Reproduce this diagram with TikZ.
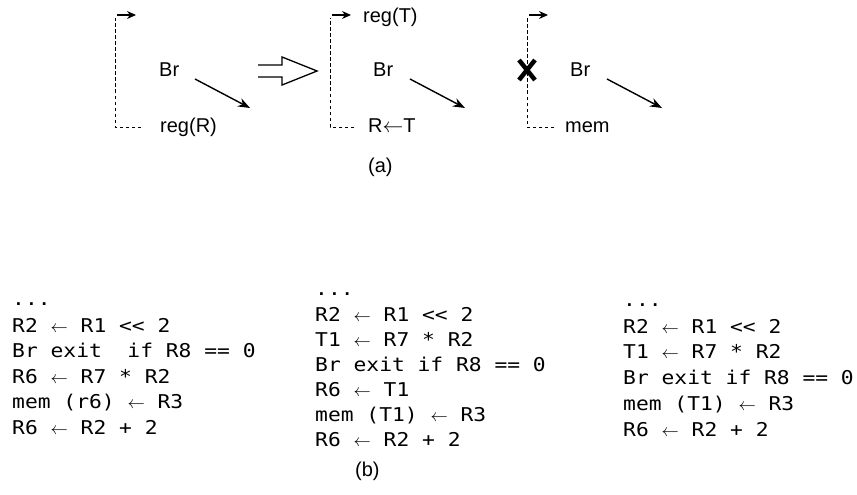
\documentclass[tikz,border=0pt]{standalone}
\usepackage{fontspec}
\setmainfont{Liberation Sans}
\newfontfamily\codefont[FakeStretch=1.12,Ligatures=TeXOff]{DejaVu Sans Mono}
\newcommand\lar{$\leftarrow$}
\usetikzlibrary{arrows.meta}
\begin{document}
\begin{tikzpicture}[x=1pt,y=-1pt,
  lbl/.style={font=\fontsize{20}{20}\selectfont, inner sep=0pt, anchor=base west},
  code/.style={font=\codefont\fontsize{19}{19}\selectfont, inner sep=0pt, anchor=base west},
  brarrow/.style={line width=1.4pt, -{Stealth[length=12pt,width=9pt]}},
  flow/.style={line width=1pt, dash pattern=on 3.5pt off 2.5pt},
  tiparrow/.style={line width=1.2pt, -{Stealth[length=9pt,width=8pt]}},
  cross/.style={line width=4.5pt},
  hollow/.style={line width=1.3pt, line join=miter},
]
\path[use as bounding box] (0,0) rectangle (857,495);

% ---------- panel 1 ----------
\coordinate (p1t) at (115,18);
\coordinate (p1b) at (115,127);
\coordinate (p1e) at (141,127);
\coordinate (p1s) at (117,15);
\coordinate (p1h) at (136,15);
\draw[flow] (p1e) -- (p1b) -- (p1t);
\draw[tiparrow] (p1s) -- (p1h);
\node[lbl] (br1) at (159,77) {Br};
\node[lbl] (regR) at (160,132) {reg(R)};
\coordinate (b1s) at (195,79);
\coordinate (b1e) at (250,108);
\draw[brarrow] (b1s) -- (b1e);

% ---------- hollow arrow ----------
\coordinate (h1) at (258,65);
\coordinate (h2) at (282,65);
\coordinate (h3) at (282,57);
\coordinate (h4) at (317,71);
\coordinate (h5) at (282,85);
\coordinate (h6) at (282,77);
\coordinate (h7) at (258,77);
\draw[hollow] (h1) -- (h2) -- (h3) -- (h4) -- (h5) -- (h6) -- (h7);

% ---------- panel 2 ----------
\coordinate (p2t) at (330,18);
\coordinate (p2b) at (330,127);
\coordinate (p2e) at (354,127);
\coordinate (p2s) at (332,15);
\coordinate (p2h) at (351,15);
\draw[flow] (p2e) -- (p2b) -- (p2t);
\draw[tiparrow] (p2s) -- (p2h);
\node[lbl] (regT) at (363,23) {reg(T)};
\node[lbl] (br2) at (373,77) {Br};
\node[lbl] (RT) at (368,132) {R$\leftarrow$T};
\coordinate (b2s) at (410,79);
\coordinate (b2e) at (465,108);
\draw[brarrow] (b2s) -- (b2e);

% ---------- panel 3 ----------
\coordinate (p3t) at (527,18);
\coordinate (p3b) at (527,127);
\coordinate (p3e) at (554,127);
\coordinate (p3s) at (529,15);
\coordinate (p3h) at (548,15);
\draw[flow] (p3e) -- (p3b) -- (p3t);
\draw[tiparrow] (p3s) -- (p3h);
\coordinate (x1) at (519,60);
\coordinate (x2) at (535,80);
\coordinate (x3) at (519,80);
\coordinate (x4) at (535,60);
\draw[cross] (x1) -- (x2);
\draw[cross] (x3) -- (x4);
\node[lbl] (br3) at (570,77) {Br};
\node[lbl] (mem) at (565,132) {mem};
\coordinate (b3s) at (607,79);
\coordinate (b3e) at (662,108);
\draw[brarrow] (b3s) -- (b3e);

\node[lbl] (capa) at (368,172) {(a)};

% ---------- code block 1 ----------
\node[code] (c1l0) at (12,305) {...};
\node[code] (c1l1) at (12,332) {R2 \lar{} R1 << 2};
\node[code] (c1l2) at (12,357.5) {Br exit\ \ if R8 == 0};
\node[code] (c1l3) at (12,383) {R6 \lar{} R7 * R2};
\node[code] (c1l4) at (12,408.5) {mem (r6) \lar{} R3};
\node[code] (c1l5) at (12,434) {R6 \lar{} R2 + 2};

% ---------- code block 2 ----------
\node[code] (c2l0) at (315,295) {...};
\node[code] (c2l1) at (315,321) {R2 \lar{} R1 << 2};
\node[code] (c2l2) at (315,346) {T1 \lar{} R7 * R2};
\node[code] (c2l3) at (315,371) {Br exit if R8 == 0};
\node[code] (c2l4) at (315,396) {R6 \lar{} T1};
\node[code] (c2l5) at (315,421) {mem (T1) \lar{} R3};
\node[code] (c2l6) at (315,446) {R6 \lar{} R2 + 2};

% ---------- code block 3 ----------
\node[code] (c3l0) at (623,306) {...};
\node[code] (c3l1) at (623,333) {R2 \lar{} R1 << 2};
\node[code] (c3l2) at (623,358.75) {T1 \lar{} R7 * R2};
\node[code] (c3l3) at (623,384.5) {Br exit if R8 == 0};
\node[code] (c3l4) at (623,410.25) {mem (T1) \lar{} R3};
\node[code] (c3l5) at (623,436) {R6 \lar{} R2 + 2};

\node[lbl] (capb) at (355,476) {(b)};
\end{tikzpicture}
\end{document}
